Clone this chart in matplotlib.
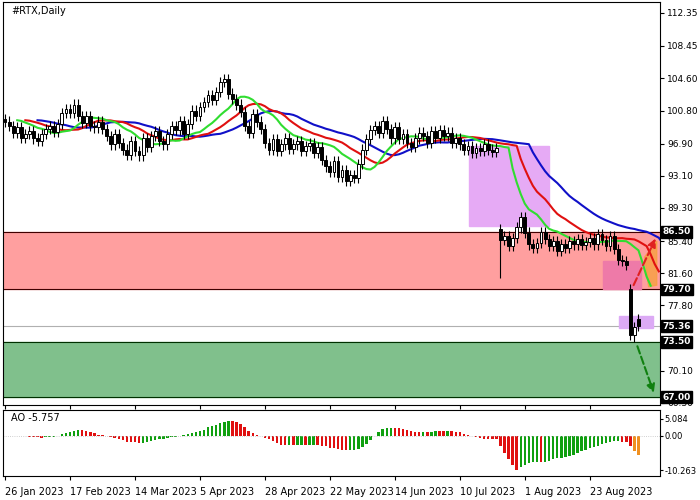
import numpy as np
import matplotlib
matplotlib.use("Agg")
import matplotlib.pyplot as plt
from matplotlib.patches import Rectangle, Polygon

closes = [99.5, 99.0, 98.2, 98.8, 97.6, 98.0, 98.4, 97.5, 97.2, 98.0, 98.6, 99.0, 98.3, 99.2, 100.5,
          101.0, 100.5, 101.5, 100.2, 99.3, 100.2, 99.0, 98.8,
          99.5, 98.6, 97.8, 96.8, 98.0, 97.0, 96.2, 95.6, 97.2, 96.0,
          95.5, 97.5, 96.5, 97.8, 98.4, 97.2, 96.8, 98.0, 99.0, 98.5, 99.6, 98.0, 99.2, 100.8,
          100.2, 101.2, 101.8, 102.6, 102.0, 103.0, 104.2, 104.5, 102.8, 102.2, 101.5,
          100.6, 99.0, 98.2, 100.4, 99.5, 98.6, 97.0, 96.2, 97.4, 96.0, 96.8, 97.5, 96.3,
          96.8, 97.2, 96.0, 96.6, 97.0, 95.8, 96.5, 95.0, 94.2, 93.6, 94.8, 93.0, 93.8, 92.5, 93.2, 92.8,
          94.5, 96.2, 97.4, 98.5, 99.0, 98.2, 99.6, 98.6, 97.5, 98.8, 97.4, 98.0, 97.0, 96.5,
          97.5, 98.2, 97.8, 97.0, 98.4, 97.6, 98.5, 97.8, 98.2, 97.0, 97.5, 96.8, 96.2, 96.6, 95.8, 96.4,
          96.0, 96.8, 96.2, 95.9, 96.4,
          85.5,
          86.0, 84.8, 85.8, 87.0, 88.2, 86.4, 85.0, 84.6, 85.2, 86.5, 85.6, 84.8, 85.4, 84.2, 85.0, 84.6,
          85.4, 85.0, 85.6, 84.9, 85.3,
          85.8, 85.0, 86.2, 85.5, 84.8, 86.0, 84.5, 83.2, 83.0,
          82.6, 74.3, 75.3, 75.4]
open_overrides = {122: 86.8, 154: 79.7, 155: 74.3, 156: 76.2}
low_overrides = {122: 81.0, 155: 73.5}
tick_idx = [0, 16, 32, 48, 64, 80, 96, 112, 128, 144]
tick_labels = ["26 Jan 2023", "17 Feb 2023", "14 Mar 2023", "5 Apr 2023", "28 Apr 2023",
               "22 May 2023", "14 Jun 2023", "10 Jul 2023", "1 Aug 2023", "23 Aug 2023"]
price_ticks = [112.35, 108.45, 104.60, 100.80, 96.90, 93.10, 89.30, 85.40, 81.60, 77.80, 70.10, 66.30]
boxed_levels = [86.50, 79.70, 75.36, 73.50, 67.00]
ao_ticks = [5.084, 0.00, -10.263]

c = np.array(closes)
n = len(c)
o = np.r_[c[0] + 0.3, c[:-1]]
for k, v in open_overrides.items():
    o[k] = v
h = np.maximum(o, c) + 0.6
l = np.minimum(o, c) - 0.6
for k, v in low_overrides.items():
    l[k] = v
x = np.arange(n)
med = (h + l) / 2

def sma(a, p):
    out = np.full(len(a), np.nan)
    cs = np.cumsum(np.r_[0, a])
    out[p - 1:] = (cs[p:] - cs[:-p]) / p
    for i in range(p - 1):
        out[i] = a[:i + 1].mean()
    return out

def smma(a, p):
    out = np.empty(len(a))
    out[0] = a[0]
    for i in range(1, len(a)):
        out[i] = (out[i - 1] * (p - 1) + a[i]) / p
    return out

fig = plt.figure(figsize=(7, 5), dpi=100)
W, H = 700, 500
ax = fig.add_axes([3 / W, 1 - 405 / H, 657 / W, 403 / H])
ax2 = fig.add_axes([3 / W, 1 - 476 / H, 657 / W, 66 / H])
xl = (-0.5, 161.3)
ylo, yhi = 66.06, 113.6

ax.axhspan(79.7, 86.5, color="#ff9f9f", zorder=0)
ax.axhspan(67.0, 73.5, color="#80c08c", zorder=0)
for yv in [86.5, 79.7, 73.5, 67.0]:
    ax.axhline(yv, color="#400000" if yv > 75 else "#003000", lw=0.8, zorder=1)
ax.axhline(75.36, color="#b0b0b0", lw=0.8, zorder=1)
ax.add_patch(Rectangle((114.2, 87.2), 19.7, 9.4, color="#e6aaf5", zorder=1))
ax.add_patch(Rectangle((147.3, 79.7), 9.4, 3.4, color="#ee7aa8", zorder=1))
ax.add_patch(Rectangle((151.2, 75.2), 8.4, 1.3, color="#dcaaf5", zorder=1))
ax.add_patch(Polygon([[157.5, 83.5], [160.5, 85.4], [160.5, 80.2], [158.5, 80.0]],
                     color="#f7a040", alpha=0.8, zorder=1))

ax.plot(x + 8, smma(med, 13), color="#1010c8", lw=1.5, zorder=2)
ax.plot(x + 5, smma(med, 8), color="#e01010", lw=1.5, zorder=2)
ax.plot(x + 3, smma(med, 5), color="#30dd30", lw=1.5, zorder=2)

for i in range(n):
    ax.vlines(i, l[i], h[i], color="black", lw=0.8, zorder=3)
    bull = c[i] >= o[i]
    ax.add_patch(Rectangle((i - 0.35, min(o[i], c[i])), 0.7, max(abs(c[i] - o[i]), 0.05),
                           facecolor="white" if bull else "black", edgecolor="black", lw=0.7, zorder=4))

ax.annotate("", xy=(160.5, 86.0), xytext=(154.5, 79.9),
            arrowprops=dict(arrowstyle="-|>", color="#e02020", lw=1.5, ls="--", mutation_scale=12), zorder=5)
ax.annotate("", xy=(160.0, 67.2), xytext=(155.5, 73.3),
            arrowprops=dict(arrowstyle="-|>", color="#108010", lw=1.5, ls="--", mutation_scale=12), zorder=5)

ax.set_xlim(*xl)
ax.set_ylim(ylo, yhi)
ax.yaxis.tick_right()
ax.set_yticks(price_ticks)
ax.set_yticklabels([f"{v:.2f}" for v in price_ticks], fontsize=6.5)
ax.tick_params(axis="y", length=3, pad=2)
ax.set_xticks(tick_idx)
ax.set_xticklabels([])
ax.tick_params(axis="x", length=3, direction="out")
for yv in boxed_levels:
    ax.text(1.004, (yv - ylo) / (yhi - ylo), f"{yv:.2f}", transform=ax.transAxes,
            fontsize=6.5, color="white", va="center", ha="left", fontweight="bold",
            bbox=dict(boxstyle="square,pad=0.15", fc="black", ec="black"), zorder=10, clip_on=False)
ax.text(0.012, 0.99, "#RTX,Daily", transform=ax.transAxes, fontsize=7, va="top", ha="left")

ao = sma(med, 5) - sma(med, 34)
cols = ["#10a010" if i > 0 and ao[i] >= ao[i - 1] else "#e01010" for i in range(n)]
cols[-1] = "#f09020"; cols[-2] = "#f09020"
ax2.bar(x, ao, width=0.6, color=cols)
ax2.axhline(0, color="#c0c0c0", lw=0.6, ls=":")
ax2.set_xlim(*xl)
ax2.set_ylim(-11.9, 7.6)
ax2.yaxis.tick_right()
ax2.set_yticks(ao_ticks)
ax2.set_yticklabels([f"{v:.3f}" if v else "0.00" for v in ao_ticks], fontsize=6)
ax2.set_xticks(tick_idx)
ax2.set_xticklabels(tick_labels, fontsize=7, ha="left")
ax2.tick_params(axis="x", length=3, pad=5)
ax2.tick_params(axis="y", length=2, pad=1)
ax2.text(0.012, 0.95, f"AO {ao[-1]:.3f}", transform=ax2.transAxes, fontsize=7, va="top")
fig.savefig("out.png", dpi=100)
